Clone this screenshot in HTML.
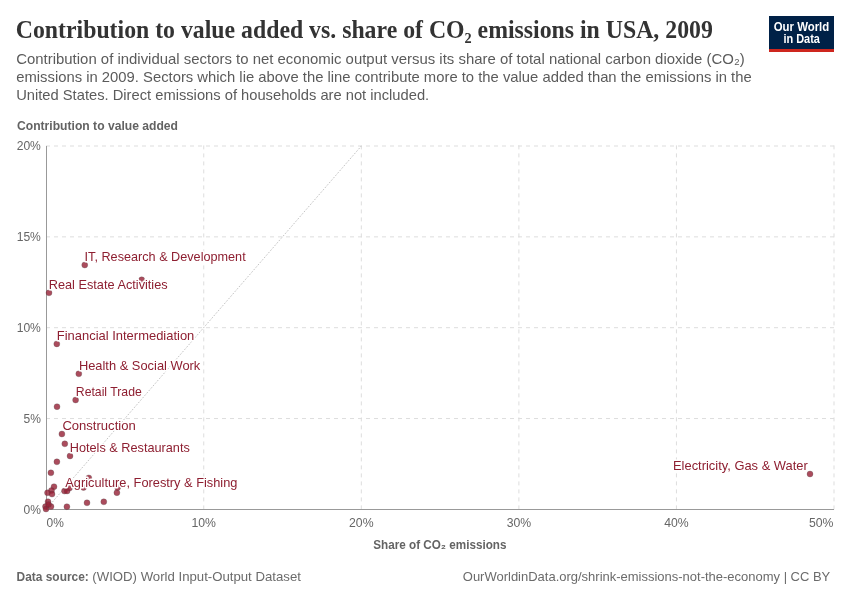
<!DOCTYPE html>
<html><head><meta charset="utf-8">
<style>
html,body{margin:0;padding:0;background:#fff;width:850px;height:600px;overflow:hidden}
svg{display:block;will-change:transform}
text{font-family:"Liberation Sans",sans-serif}
.t{font-family:"Liberation Serif",serif;font-weight:bold}
</style></head><body>
<svg width="850" height="600" viewBox="0 0 850 600">
<rect width="850" height="600" fill="#fff"/>
<text class="t" x="15.8" y="37.6" font-size="25" fill="#333" textLength="697" lengthAdjust="spacingAndGlyphs">Contribution to value added vs. share of CO₂ emissions in USA, 2009</text>
<text x="16.2" y="63.5" font-size="14.5" fill="#5b5b5b" textLength="728.5" lengthAdjust="spacingAndGlyphs">Contribution of individual sectors to net economic output versus its share of total national carbon dioxide (CO₂)</text>
<text x="16.2" y="81.6" font-size="14.5" fill="#5b5b5b" textLength="735.5" lengthAdjust="spacingAndGlyphs">emissions in 2009. Sectors which lie above the line contribute more to the value added than the emissions in the</text>
<text x="16.2" y="99.5" font-size="14.5" fill="#5b5b5b" textLength="413" lengthAdjust="spacingAndGlyphs">United States. Direct emissions of households are not included.</text>
<rect x="769" y="16" width="65" height="36" fill="#002147"/><rect x="769" y="49" width="65" height="3" fill="#ce261e"/>
<text x="773.75" y="30.6" font-size="12.2" font-weight="bold" fill="#fff" textLength="55.5" lengthAdjust="spacingAndGlyphs">Our World</text>
<text x="783.4" y="42.7" font-size="12.2" font-weight="bold" fill="#fff" textLength="36.5" lengthAdjust="spacingAndGlyphs">in Data</text>
<text x="17" y="130" font-size="12.2" font-weight="bold" fill="#636363" textLength="161" lengthAdjust="spacingAndGlyphs">Contribution to value added</text>
<line x1="46" y1="418.55" x2="834" y2="418.55" stroke="#ddd" stroke-width="1" stroke-dasharray="4,4"/>
<line x1="46" y1="327.70" x2="834" y2="327.70" stroke="#ddd" stroke-width="1" stroke-dasharray="4,4"/>
<line x1="46" y1="236.85" x2="834" y2="236.85" stroke="#ddd" stroke-width="1" stroke-dasharray="4,4"/>
<line x1="46" y1="146.00" x2="834" y2="146.00" stroke="#ddd" stroke-width="1" stroke-dasharray="4,4"/>
<line x1="203.76" y1="509.4" x2="203.76" y2="145.4" stroke="#ddd" stroke-width="1" stroke-dasharray="4,4"/>
<line x1="361.32" y1="509.4" x2="361.32" y2="145.4" stroke="#ddd" stroke-width="1" stroke-dasharray="4,4"/>
<line x1="518.88" y1="509.4" x2="518.88" y2="145.4" stroke="#ddd" stroke-width="1" stroke-dasharray="4,4"/>
<line x1="676.44" y1="509.4" x2="676.44" y2="145.4" stroke="#ddd" stroke-width="1" stroke-dasharray="4,4"/>
<line x1="834.00" y1="509.4" x2="834.00" y2="145.4" stroke="#ddd" stroke-width="1" stroke-dasharray="4,4"/>
<text x="23.50" y="513.50" font-size="13.6" fill="#666" textLength="17.4" lengthAdjust="spacingAndGlyphs">0%</text>
<text x="23.50" y="422.65" font-size="13.6" fill="#666" textLength="17.4" lengthAdjust="spacingAndGlyphs">5%</text>
<text x="16.65" y="331.80" font-size="13.6" fill="#666" textLength="24.25" lengthAdjust="spacingAndGlyphs">10%</text>
<text x="16.65" y="240.95" font-size="13.6" fill="#666" textLength="24.25" lengthAdjust="spacingAndGlyphs">15%</text>
<text x="16.65" y="150.10" font-size="13.6" fill="#666" textLength="24.25" lengthAdjust="spacingAndGlyphs">20%</text>
<text x="46.60" y="527.2" font-size="13.6" fill="#666" textLength="17.3" lengthAdjust="spacingAndGlyphs">0%</text>
<text x="191.51" y="527.2" font-size="13.6" fill="#666" textLength="24.5" lengthAdjust="spacingAndGlyphs">10%</text>
<text x="349.07" y="527.2" font-size="13.6" fill="#666" textLength="24.5" lengthAdjust="spacingAndGlyphs">20%</text>
<text x="506.63" y="527.2" font-size="13.6" fill="#666" textLength="24.5" lengthAdjust="spacingAndGlyphs">30%</text>
<text x="664.19" y="527.2" font-size="13.6" fill="#666" textLength="24.5" lengthAdjust="spacingAndGlyphs">40%</text>
<text x="809.00" y="527.2" font-size="13.6" fill="#666" textLength="24.5" lengthAdjust="spacingAndGlyphs">50%</text>
<text x="373.3" y="548.8" font-size="12.2" font-weight="bold" fill="#636363" textLength="133.2" lengthAdjust="spacingAndGlyphs">Share of CO₂ emissions</text>
<line x1="46.5" y1="146" x2="46.5" y2="509.5" stroke="#999" stroke-width="1"/>
<line x1="46" y1="509.5" x2="834" y2="509.5" stroke="#999" stroke-width="1"/>
<line x1="46" y1="509.4" x2="361.32" y2="146.00" stroke="#c4c4c4" stroke-width="1" stroke-dasharray="1.7,1.5"/>
<circle cx="810" cy="474" r="3" fill="#961f34" fill-opacity="0.8" stroke="#4a4a4a" stroke-opacity="0.45" stroke-width="0.6"/>
<circle cx="84.75" cy="265" r="3" fill="#961f34" fill-opacity="0.8" stroke="#4a4a4a" stroke-opacity="0.45" stroke-width="0.6"/>
<circle cx="49" cy="292.8" r="3" fill="#961f34" fill-opacity="0.8" stroke="#4a4a4a" stroke-opacity="0.45" stroke-width="0.6"/>
<circle cx="141.7" cy="279.8" r="3" fill="#961f34" fill-opacity="0.8" stroke="#4a4a4a" stroke-opacity="0.45" stroke-width="0.6"/>
<circle cx="56.8" cy="343.9" r="3" fill="#961f34" fill-opacity="0.8" stroke="#4a4a4a" stroke-opacity="0.45" stroke-width="0.6"/>
<circle cx="78.8" cy="373.8" r="3" fill="#961f34" fill-opacity="0.8" stroke="#4a4a4a" stroke-opacity="0.45" stroke-width="0.6"/>
<circle cx="75.6" cy="400" r="3" fill="#961f34" fill-opacity="0.8" stroke="#4a4a4a" stroke-opacity="0.45" stroke-width="0.6"/>
<circle cx="57" cy="406.7" r="3" fill="#961f34" fill-opacity="0.8" stroke="#4a4a4a" stroke-opacity="0.45" stroke-width="0.6"/>
<circle cx="61.9" cy="434" r="3" fill="#961f34" fill-opacity="0.8" stroke="#4a4a4a" stroke-opacity="0.45" stroke-width="0.6"/>
<circle cx="64.8" cy="443.8" r="3" fill="#961f34" fill-opacity="0.8" stroke="#4a4a4a" stroke-opacity="0.45" stroke-width="0.6"/>
<circle cx="70" cy="456" r="3" fill="#961f34" fill-opacity="0.8" stroke="#4a4a4a" stroke-opacity="0.45" stroke-width="0.6"/>
<circle cx="56.9" cy="461.8" r="3" fill="#961f34" fill-opacity="0.8" stroke="#4a4a4a" stroke-opacity="0.45" stroke-width="0.6"/>
<circle cx="50.9" cy="472.8" r="3" fill="#961f34" fill-opacity="0.8" stroke="#4a4a4a" stroke-opacity="0.45" stroke-width="0.6"/>
<circle cx="88.8" cy="477.9" r="3" fill="#961f34" fill-opacity="0.8" stroke="#4a4a4a" stroke-opacity="0.45" stroke-width="0.6"/>
<circle cx="54" cy="486.7" r="3" fill="#961f34" fill-opacity="0.8" stroke="#4a4a4a" stroke-opacity="0.45" stroke-width="0.6"/>
<circle cx="51.5" cy="490.4" r="3" fill="#961f34" fill-opacity="0.8" stroke="#4a4a4a" stroke-opacity="0.45" stroke-width="0.6"/>
<circle cx="47.5" cy="492.8" r="3" fill="#961f34" fill-opacity="0.8" stroke="#4a4a4a" stroke-opacity="0.45" stroke-width="0.6"/>
<circle cx="52" cy="494.1" r="3" fill="#961f34" fill-opacity="0.8" stroke="#4a4a4a" stroke-opacity="0.45" stroke-width="0.6"/>
<circle cx="64.5" cy="491.1" r="3" fill="#961f34" fill-opacity="0.8" stroke="#4a4a4a" stroke-opacity="0.45" stroke-width="0.6"/>
<circle cx="67.1" cy="491" r="3" fill="#961f34" fill-opacity="0.8" stroke="#4a4a4a" stroke-opacity="0.45" stroke-width="0.6"/>
<circle cx="69.5" cy="488" r="3" fill="#961f34" fill-opacity="0.8" stroke="#4a4a4a" stroke-opacity="0.45" stroke-width="0.6"/>
<circle cx="83.5" cy="487.5" r="3" fill="#961f34" fill-opacity="0.8" stroke="#4a4a4a" stroke-opacity="0.45" stroke-width="0.6"/>
<circle cx="116.9" cy="492.7" r="3" fill="#961f34" fill-opacity="0.8" stroke="#4a4a4a" stroke-opacity="0.45" stroke-width="0.6"/>
<circle cx="117.6" cy="487.6" r="3" fill="#961f34" fill-opacity="0.8" stroke="#4a4a4a" stroke-opacity="0.45" stroke-width="0.6"/>
<circle cx="87" cy="502.8" r="3" fill="#961f34" fill-opacity="0.8" stroke="#4a4a4a" stroke-opacity="0.45" stroke-width="0.6"/>
<circle cx="103.8" cy="501.8" r="3" fill="#961f34" fill-opacity="0.8" stroke="#4a4a4a" stroke-opacity="0.45" stroke-width="0.6"/>
<circle cx="66.9" cy="506.7" r="3" fill="#961f34" fill-opacity="0.8" stroke="#4a4a4a" stroke-opacity="0.45" stroke-width="0.6"/>
<circle cx="48" cy="501.7" r="3" fill="#961f34" fill-opacity="0.8" stroke="#4a4a4a" stroke-opacity="0.45" stroke-width="0.6"/>
<circle cx="51" cy="506.6" r="3" fill="#961f34" fill-opacity="0.8" stroke="#4a4a4a" stroke-opacity="0.45" stroke-width="0.6"/>
<circle cx="45.5" cy="506.6" r="3" fill="#961f34" fill-opacity="0.8" stroke="#4a4a4a" stroke-opacity="0.45" stroke-width="0.6"/>
<circle cx="46" cy="509" r="3" fill="#961f34" fill-opacity="0.8" stroke="#4a4a4a" stroke-opacity="0.45" stroke-width="0.6"/>
<circle cx="48.5" cy="504.5" r="3" fill="#961f34" fill-opacity="0.8" stroke="#4a4a4a" stroke-opacity="0.45" stroke-width="0.6"/>
<text x="84.6" y="260.6" font-size="12.7" fill="#fff" stroke="#fff" stroke-width="3" stroke-linejoin="round" textLength="161.1" lengthAdjust="spacingAndGlyphs">IT, Research &amp; Development</text>
<text x="84.6" y="260.6" font-size="12.7" fill="#8e1f31" textLength="161.1" lengthAdjust="spacingAndGlyphs">IT, Research &amp; Development</text>
<text x="48.75" y="288.75" font-size="12.7" fill="#fff" stroke="#fff" stroke-width="3" stroke-linejoin="round" textLength="118.9" lengthAdjust="spacingAndGlyphs">Real Estate Activities</text>
<text x="48.75" y="288.75" font-size="12.7" fill="#8e1f31" textLength="118.9" lengthAdjust="spacingAndGlyphs">Real Estate Activities</text>
<text x="56.8" y="339.6" font-size="12.7" fill="#fff" stroke="#fff" stroke-width="3" stroke-linejoin="round" textLength="137.5" lengthAdjust="spacingAndGlyphs">Financial Intermediation</text>
<text x="56.8" y="339.6" font-size="12.7" fill="#8e1f31" textLength="137.5" lengthAdjust="spacingAndGlyphs">Financial Intermediation</text>
<text x="78.9" y="369.6" font-size="12.7" fill="#fff" stroke="#fff" stroke-width="3" stroke-linejoin="round" textLength="121.4" lengthAdjust="spacingAndGlyphs">Health &amp; Social Work</text>
<text x="78.9" y="369.6" font-size="12.7" fill="#8e1f31" textLength="121.4" lengthAdjust="spacingAndGlyphs">Health &amp; Social Work</text>
<text x="75.8" y="395.5" font-size="12.7" fill="#fff" stroke="#fff" stroke-width="3" stroke-linejoin="round" textLength="66.0" lengthAdjust="spacingAndGlyphs">Retail Trade</text>
<text x="75.8" y="395.5" font-size="12.7" fill="#8e1f31" textLength="66.0" lengthAdjust="spacingAndGlyphs">Retail Trade</text>
<text x="62.4" y="429.8" font-size="12.7" fill="#fff" stroke="#fff" stroke-width="3" stroke-linejoin="round" textLength="73.3" lengthAdjust="spacingAndGlyphs">Construction</text>
<text x="62.4" y="429.8" font-size="12.7" fill="#8e1f31" textLength="73.3" lengthAdjust="spacingAndGlyphs">Construction</text>
<text x="69.8" y="451.6" font-size="12.7" fill="#fff" stroke="#fff" stroke-width="3" stroke-linejoin="round" textLength="120.0" lengthAdjust="spacingAndGlyphs">Hotels &amp; Restaurants</text>
<text x="69.8" y="451.6" font-size="12.7" fill="#8e1f31" textLength="120.0" lengthAdjust="spacingAndGlyphs">Hotels &amp; Restaurants</text>
<text x="65.3" y="486.7" font-size="12.7" fill="#fff" stroke="#fff" stroke-width="3" stroke-linejoin="round" textLength="172.1" lengthAdjust="spacingAndGlyphs">Agriculture, Forestry &amp; Fishing</text>
<text x="65.3" y="486.7" font-size="12.7" fill="#8e1f31" textLength="172.1" lengthAdjust="spacingAndGlyphs">Agriculture, Forestry &amp; Fishing</text>
<text x="673.0" y="469.9" font-size="12.7" fill="#fff" stroke="#fff" stroke-width="3" stroke-linejoin="round" textLength="134.75" lengthAdjust="spacingAndGlyphs">Electricity, Gas &amp; Water</text>
<text x="673.0" y="469.9" font-size="12.7" fill="#8e1f31" textLength="134.75" lengthAdjust="spacingAndGlyphs">Electricity, Gas &amp; Water</text>
<text x="16.6" y="580.75" font-size="12.6" font-weight="bold" fill="#666" textLength="72.2" lengthAdjust="spacingAndGlyphs">Data source:</text>
<text x="92.3" y="580.75" font-size="13" fill="#6b6b6b" textLength="208.6" lengthAdjust="spacingAndGlyphs">(WIOD) World Input-Output Dataset</text>
<text x="462.8" y="580.75" font-size="13" fill="#6b6b6b" textLength="367.5" lengthAdjust="spacingAndGlyphs">OurWorldinData.org/shrink-emissions-not-the-economy | CC BY</text>
</svg>
</body></html>
